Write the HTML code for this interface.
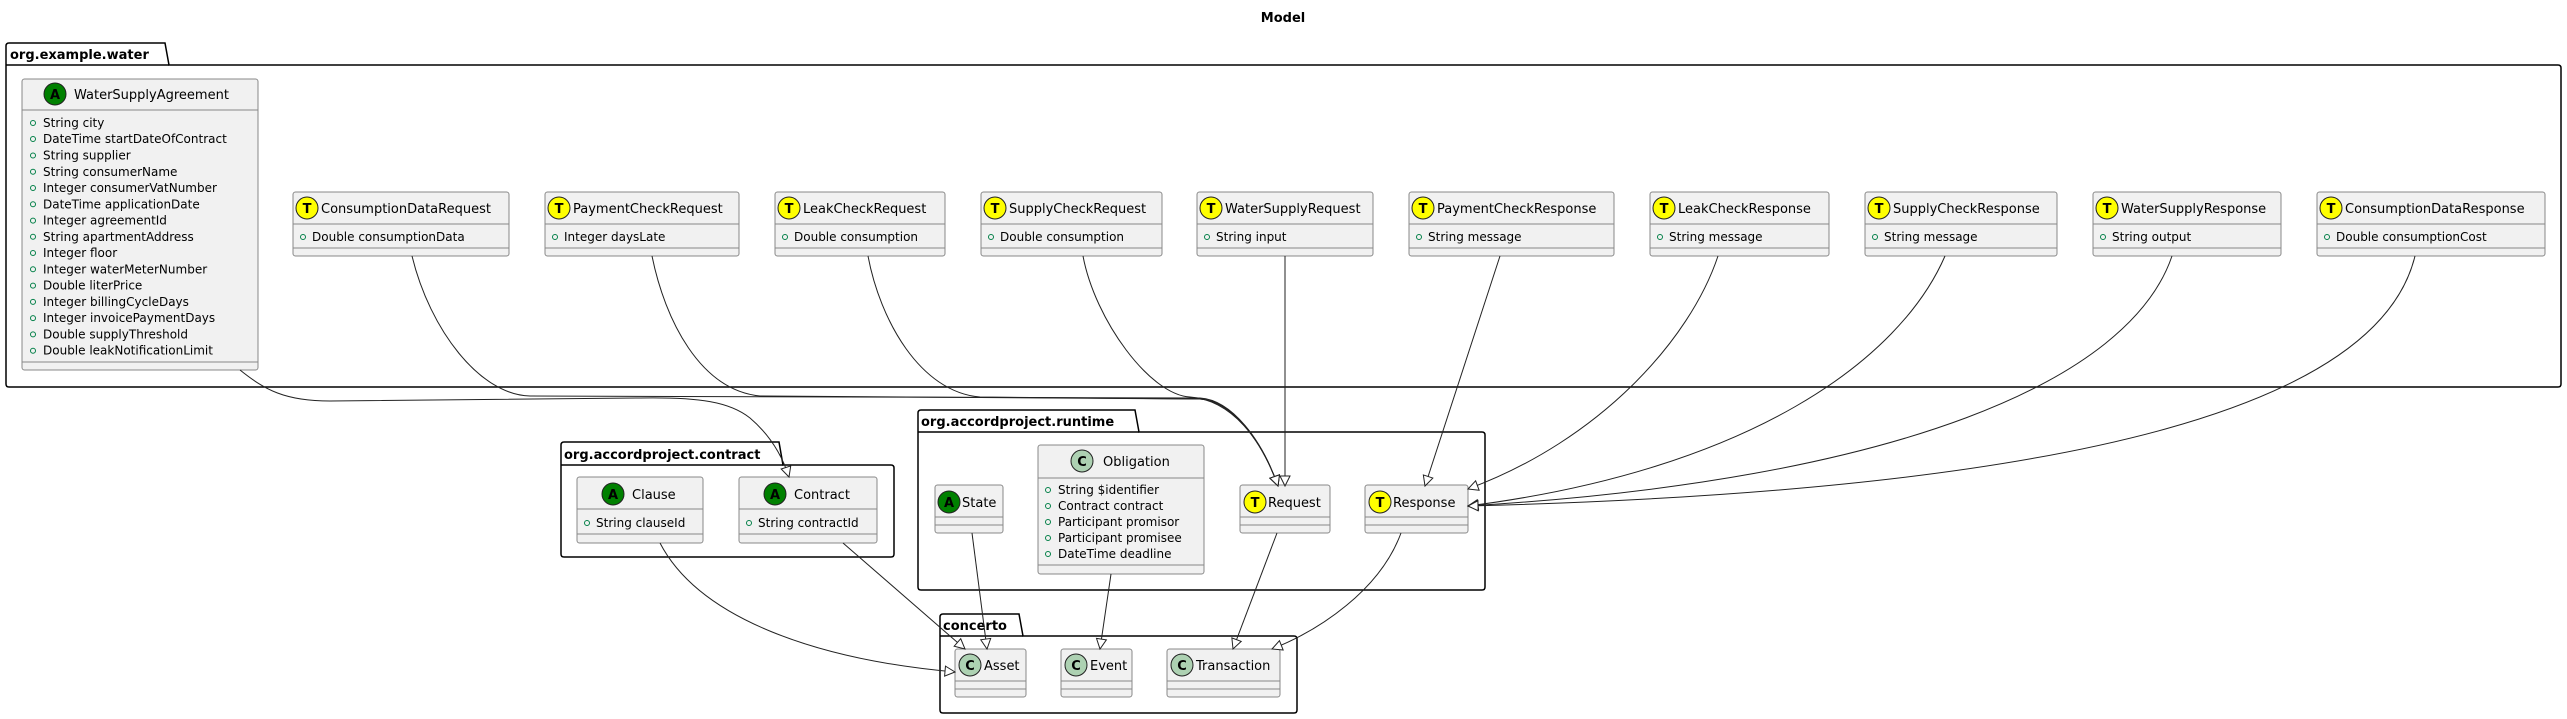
<!DOCTYPE html>
<html><head><meta charset="utf-8"><style>
html,body{margin:0;padding:0;background:#fff;}
svg{display:block;font-family:"DejaVu Sans","Liberation Sans",sans-serif;}
.b{fill:#F1F1F1;stroke:#888;stroke-width:1;}
.s{stroke:#888;stroke-width:1;}
.pk{fill:none;stroke:#000;stroke-width:1.5;}
.pt{font-weight:bold;font-size:13px;}
.n{font-size:13px;}
.a{font-size:12px;}
.e{fill:none;stroke:#222;stroke-width:1;}
.ao{fill:none;stroke:#038048;stroke-width:1;}
</style></head><body>
<svg width="2567" height="719" viewBox="0 0 2567 719" xmlns="http://www.w3.org/2000/svg">
<defs>
<marker id="t" markerUnits="userSpaceOnUse" markerWidth="14" markerHeight="14" refX="11" refY="6" orient="auto">
<path d="M1,1 L11,6 L1,11 Z" fill="#fff" stroke="#222" stroke-width="1"/>
</marker>
</defs>
<text x="1283" y="22" text-anchor="middle" class="pt">Model</text>

<!-- packages -->
<path class="pk" d="M6,65 L6,46 Q6,43 9,43 L165,43 L169,65 L2558,65 Q2561,65 2561,68 L2561,384 Q2561,387 2558,387 L9,387 Q6,387 6,384 Z"/>
<line x1="6" y1="65" x2="169" y2="65" stroke="#000" stroke-width="1.5"/>
<text x="10" y="59" class="pt">org.example.water</text>

<path class="pk" d="M561,465 L561,445 Q561,442 564,442 L779,442 L783,465 L891,465 Q894,465 894,468 L894,554 Q894,557 891,557 L564,557 Q561,557 561,554 Z"/>
<line x1="561" y1="465" x2="783" y2="465" stroke="#000" stroke-width="1.5"/>
<text x="564" y="459" class="pt">org.accordproject.contract</text>

<path class="pk" d="M918,432 L918,413 Q918,410 921,410 L1135,410 L1139,432 L1482,432 Q1485,432 1485,435 L1485,587 Q1485,590 1482,590 L921,590 Q918,590 918,587 Z"/>
<line x1="918" y1="432" x2="1139" y2="432" stroke="#000" stroke-width="1.5"/>
<text x="921" y="426" class="pt">org.accordproject.runtime</text>

<path class="pk" d="M940,636 L940,617 Q940,614 943,614 L1019,614 L1023,636 L1294,636 Q1297,636 1297,639 L1297,710 Q1297,713 1294,713 L943,713 Q940,713 940,710 Z"/>
<line x1="940" y1="636" x2="1023" y2="636" stroke="#000" stroke-width="1.5"/>
<text x="943" y="630" class="pt">concerto</text>

<!-- WaterSupplyAgreement -->
<rect class="b" x="22" y="79" width="236" height="291" rx="2.5"/>
<line class="s" x1="22" y1="110" x2="258" y2="110"/><line class="s" x1="22" y1="362" x2="258" y2="362"/>
<circle cx="55" cy="94" r="11" fill="#008000" stroke="#222"/><text x="55" y="99" text-anchor="middle" font-weight="bold" font-size="13">A</text>
<text x="74" y="99" class="n">WaterSupplyAgreement</text>
<g class="a">
<text x="43" y="127">String city</text>
<text x="43" y="143">DateTime startDateOfContract</text>
<text x="43" y="159.5">String supplier</text>
<text x="43" y="175.8">String consumerName</text>
<text x="43" y="192">Integer consumerVatNumber</text>
<text x="43" y="208.3">DateTime applicationDate</text>
<text x="43" y="224.6">Integer agreementId</text>
<text x="43" y="240.8">String apartmentAddress</text>
<text x="43" y="257">Integer floor</text>
<text x="43" y="273.3">Integer waterMeterNumber</text>
<text x="43" y="289.6">Double literPrice</text>
<text x="43" y="305.9">Integer billingCycleDays</text>
<text x="43" y="322.1">Integer invoicePaymentDays</text>
<text x="43" y="338.4">Double supplyThreshold</text>
<text x="43" y="354.7">Double leakNotificationLimit</text>
</g>
<g class="ao">
<circle cx="33" cy="123" r="2.5"/><circle cx="33" cy="139" r="2.5"/><circle cx="33" cy="155.5" r="2.5"/><circle cx="33" cy="171.8" r="2.5"/><circle cx="33" cy="188" r="2.5"/><circle cx="33" cy="204.3" r="2.5"/><circle cx="33" cy="220.6" r="2.5"/><circle cx="33" cy="236.8" r="2.5"/><circle cx="33" cy="253" r="2.5"/><circle cx="33" cy="269.3" r="2.5"/><circle cx="33" cy="285.6" r="2.5"/><circle cx="33" cy="301.9" r="2.5"/><circle cx="33" cy="318.1" r="2.5"/><circle cx="33" cy="334.4" r="2.5"/><circle cx="33" cy="350.7" r="2.5"/>
</g>

<!-- top row T classes -->
<g id="toprow">
<rect class="b" x="293" y="192" width="216" height="64" rx="2.5"/><line class="s" x1="293" y1="224" x2="509" y2="224"/><line class="s" x1="293" y1="248" x2="509" y2="248"/>
<circle cx="307" cy="208" r="11" fill="#FFFF00" stroke="#222"/><text x="307" y="213" text-anchor="middle" font-weight="bold" font-size="13">T</text>
<text x="321" y="213" class="n">ConsumptionDataRequest</text><circle class="ao" cx="303" cy="237" r="2.5"/><text x="312" y="241" class="a">Double consumptionData</text>

<rect class="b" x="545" y="192" width="194" height="64" rx="2.5"/><line class="s" x1="545" y1="224" x2="739" y2="224"/><line class="s" x1="545" y1="248" x2="739" y2="248"/>
<circle cx="559" cy="208" r="11" fill="#FFFF00" stroke="#222"/><text x="559" y="213" text-anchor="middle" font-weight="bold" font-size="13">T</text>
<text x="573" y="213" class="n">PaymentCheckRequest</text><circle class="ao" cx="555" cy="237" r="2.5"/><text x="564" y="241" class="a">Integer daysLate</text>

<rect class="b" x="775" y="192" width="170" height="64" rx="2.5"/><line class="s" x1="775" y1="224" x2="945" y2="224"/><line class="s" x1="775" y1="248" x2="945" y2="248"/>
<circle cx="789" cy="208" r="11" fill="#FFFF00" stroke="#222"/><text x="789" y="213" text-anchor="middle" font-weight="bold" font-size="13">T</text>
<text x="803" y="213" class="n">LeakCheckRequest</text><circle class="ao" cx="785" cy="237" r="2.5"/><text x="794" y="241" class="a">Double consumption</text>

<rect class="b" x="981" y="192" width="181" height="64" rx="2.5"/><line class="s" x1="981" y1="224" x2="1162" y2="224"/><line class="s" x1="981" y1="248" x2="1162" y2="248"/>
<circle cx="995" cy="208" r="11" fill="#FFFF00" stroke="#222"/><text x="995" y="213" text-anchor="middle" font-weight="bold" font-size="13">T</text>
<text x="1009" y="213" class="n">SupplyCheckRequest</text><circle class="ao" cx="991" cy="237" r="2.5"/><text x="1000" y="241" class="a">Double consumption</text>

<rect class="b" x="1197" y="192" width="176" height="64" rx="2.5"/><line class="s" x1="1197" y1="224" x2="1373" y2="224"/><line class="s" x1="1197" y1="248" x2="1373" y2="248"/>
<circle cx="1211" cy="208" r="11" fill="#FFFF00" stroke="#222"/><text x="1211" y="213" text-anchor="middle" font-weight="bold" font-size="13">T</text>
<text x="1225" y="213" class="n">WaterSupplyRequest</text><circle class="ao" cx="1207" cy="237" r="2.5"/><text x="1216" y="241" class="a">String input</text>

<rect class="b" x="1409" y="192" width="205" height="64" rx="2.5"/><line class="s" x1="1409" y1="224" x2="1614" y2="224"/><line class="s" x1="1409" y1="248" x2="1614" y2="248"/>
<circle cx="1423" cy="208" r="11" fill="#FFFF00" stroke="#222"/><text x="1423" y="213" text-anchor="middle" font-weight="bold" font-size="13">T</text>
<text x="1437" y="213" class="n">PaymentCheckResponse</text><circle class="ao" cx="1419" cy="237" r="2.5"/><text x="1428" y="241" class="a">String message</text>

<rect class="b" x="1650" y="192" width="179" height="64" rx="2.5"/><line class="s" x1="1650" y1="224" x2="1829" y2="224"/><line class="s" x1="1650" y1="248" x2="1829" y2="248"/>
<circle cx="1664" cy="208" r="11" fill="#FFFF00" stroke="#222"/><text x="1664" y="213" text-anchor="middle" font-weight="bold" font-size="13">T</text>
<text x="1678" y="213" class="n">LeakCheckResponse</text><circle class="ao" cx="1660" cy="237" r="2.5"/><text x="1669" y="241" class="a">String message</text>

<rect class="b" x="1865" y="192" width="192" height="64" rx="2.5"/><line class="s" x1="1865" y1="224" x2="2057" y2="224"/><line class="s" x1="1865" y1="248" x2="2057" y2="248"/>
<circle cx="1879" cy="208" r="11" fill="#FFFF00" stroke="#222"/><text x="1879" y="213" text-anchor="middle" font-weight="bold" font-size="13">T</text>
<text x="1893" y="213" class="n">SupplyCheckResponse</text><circle class="ao" cx="1875" cy="237" r="2.5"/><text x="1884" y="241" class="a">String message</text>

<rect class="b" x="2093" y="192" width="188" height="64" rx="2.5"/><line class="s" x1="2093" y1="224" x2="2281" y2="224"/><line class="s" x1="2093" y1="248" x2="2281" y2="248"/>
<circle cx="2107" cy="208" r="11" fill="#FFFF00" stroke="#222"/><text x="2107" y="213" text-anchor="middle" font-weight="bold" font-size="13">T</text>
<text x="2121" y="213" class="n">WaterSupplyResponse</text><circle class="ao" cx="2103" cy="237" r="2.5"/><text x="2112" y="241" class="a">String output</text>

<rect class="b" x="2317" y="192" width="228" height="64" rx="2.5"/><line class="s" x1="2317" y1="224" x2="2545" y2="224"/><line class="s" x1="2317" y1="248" x2="2545" y2="248"/>
<circle cx="2331" cy="208" r="11" fill="#FFFF00" stroke="#222"/><text x="2331" y="213" text-anchor="middle" font-weight="bold" font-size="13">T</text>
<text x="2345" y="213" class="n">ConsumptionDataResponse</text><circle class="ao" cx="2327" cy="237" r="2.5"/><text x="2336" y="241" class="a">Double consumptionCost</text>
</g>

<!-- contract package classes -->
<rect class="b" x="577" y="477" width="126" height="66" rx="2.5"/><line class="s" x1="577" y1="509" x2="703" y2="509"/><line class="s" x1="577" y1="534" x2="703" y2="534"/>
<circle cx="613" cy="494" r="11" fill="#008000" stroke="#222"/><text x="613" y="499" text-anchor="middle" font-weight="bold" font-size="13">A</text>
<text x="632" y="499" class="n">Clause</text><circle class="ao" cx="587" cy="523" r="2.5"/><text x="596" y="527" class="a">String clauseId</text>

<rect class="b" x="739" y="477" width="138" height="66" rx="2.5"/><line class="s" x1="739" y1="509" x2="877" y2="509"/><line class="s" x1="739" y1="534" x2="877" y2="534"/>
<circle cx="775" cy="494" r="11" fill="#008000" stroke="#222"/><text x="775" y="499" text-anchor="middle" font-weight="bold" font-size="13">A</text>
<text x="794" y="499" class="n">Contract</text><circle class="ao" cx="749" cy="523" r="2.5"/><text x="758" y="527" class="a">String contractId</text>

<!-- runtime classes -->
<rect class="b" x="935" y="485" width="68" height="48" rx="2.5"/><line class="s" x1="935" y1="517" x2="1003" y2="517"/><line class="s" x1="935" y1="525" x2="1003" y2="525"/>
<circle cx="949" cy="502" r="11" fill="#008000" stroke="#222"/><text x="949" y="507" text-anchor="middle" font-weight="bold" font-size="13">A</text>
<text x="962" y="507" class="n">State</text>

<rect class="b" x="1038" y="445" width="166" height="129" rx="2.5"/><line class="s" x1="1038" y1="478" x2="1204" y2="478"/><line class="s" x1="1038" y1="565" x2="1204" y2="565"/>
<circle cx="1082" cy="461" r="11" fill="#ADD1B2" stroke="#222"/><text x="1082" y="466" text-anchor="middle" font-weight="bold" font-size="13">C</text>
<text x="1103" y="466" class="n">Obligation</text>
<g class="a">
<text x="1058" y="494">String $identifier</text>
<text x="1058" y="510">Contract contract</text>
<text x="1058" y="526">Participant promisor</text>
<text x="1058" y="542">Participant promisee</text>
<text x="1058" y="558">DateTime deadline</text>
</g>
<g class="ao"><circle cx="1048" cy="490" r="2.5"/><circle cx="1048" cy="506" r="2.5"/><circle cx="1048" cy="522" r="2.5"/><circle cx="1048" cy="538" r="2.5"/><circle cx="1048" cy="554" r="2.5"/></g>

<rect class="b" x="1240" y="485" width="90" height="48" rx="2.5"/><line class="s" x1="1240" y1="517" x2="1330" y2="517"/><line class="s" x1="1240" y1="525" x2="1330" y2="525"/>
<circle cx="1255" cy="502" r="11" fill="#FFFF00" stroke="#222"/><text x="1255" y="507" text-anchor="middle" font-weight="bold" font-size="13">T</text>
<text x="1268" y="507" class="n">Request</text>

<rect class="b" x="1365" y="485" width="103" height="48" rx="2.5"/><line class="s" x1="1365" y1="517" x2="1468" y2="517"/><line class="s" x1="1365" y1="525" x2="1468" y2="525"/>
<circle cx="1380" cy="502" r="11" fill="#FFFF00" stroke="#222"/><text x="1380" y="507" text-anchor="middle" font-weight="bold" font-size="13">T</text>
<text x="1393" y="507" class="n">Response</text>

<!-- concerto classes -->
<rect class="b" x="955" y="649" width="71" height="48" rx="2.5"/><line class="s" x1="955" y1="681" x2="1026" y2="681"/><line class="s" x1="955" y1="689" x2="1026" y2="689"/>
<circle cx="970" cy="665" r="11" fill="#ADD1B2" stroke="#222"/><text x="970" y="670" text-anchor="middle" font-weight="bold" font-size="13">C</text>
<text x="984" y="670" class="n">Asset</text>

<rect class="b" x="1061" y="649" width="71" height="48" rx="2.5"/><line class="s" x1="1061" y1="681" x2="1132" y2="681"/><line class="s" x1="1061" y1="689" x2="1132" y2="689"/>
<circle cx="1076" cy="665" r="11" fill="#ADD1B2" stroke="#222"/><text x="1076" y="670" text-anchor="middle" font-weight="bold" font-size="13">C</text>
<text x="1090" y="670" class="n">Event</text>

<rect class="b" x="1167" y="649" width="113" height="48" rx="2.5"/><line class="s" x1="1167" y1="681" x2="1280" y2="681"/><line class="s" x1="1167" y1="689" x2="1280" y2="689"/>
<circle cx="1182" cy="665" r="11" fill="#ADD1B2" stroke="#222"/><text x="1182" y="670" text-anchor="middle" font-weight="bold" font-size="13">C</text>
<text x="1196" y="670" class="n">Transaction</text>

<!-- edges -->
<g class="e" marker-end="url(#t)">
<path d="M240,370 C265,390 285,401 330,401 L640,398 C700,397 730,402 750,418 C770,435 782,455 789,477"/>
<path d="M412,256 C430,330 480,395 530,396 L1200,398 C1232,400 1262,440 1278,486"/>
<path d="M652,256 C665,320 700,390 760,396 L1200,399 C1232,401 1262,441 1278,486"/>
<path d="M868,256 C880,320 920,392 980,397 L1200,399 C1232,401 1262,441 1278,486"/>
<path d="M1083,256 C1095,320 1150,395 1190,397 C1232,400 1262,440 1278,486"/>
<path d="M1285,256 L1285,486"/>
<path d="M1500,256 L1425,486"/>
<path d="M1718,256 C1690,340 1600,440 1468,489"/>
<path d="M1945,256 C1900,360 1750,470 1468,506"/>
<path d="M2172,256 C2130,380 1900,480 1468,506"/>
<path d="M2415,256 C2380,400 2100,490 1468,506"/>
<path d="M660,543 C700,620 820,660 955,672"/>
<path d="M843,543 L965,649"/>
<path d="M972,533 L987,649"/>
<path d="M1111,574 L1100,649"/>
<path d="M1277,533 L1233,649"/>
<path d="M1401,533 C1380,590 1320,630 1272,649"/>
</g>
</svg>
</body></html>
